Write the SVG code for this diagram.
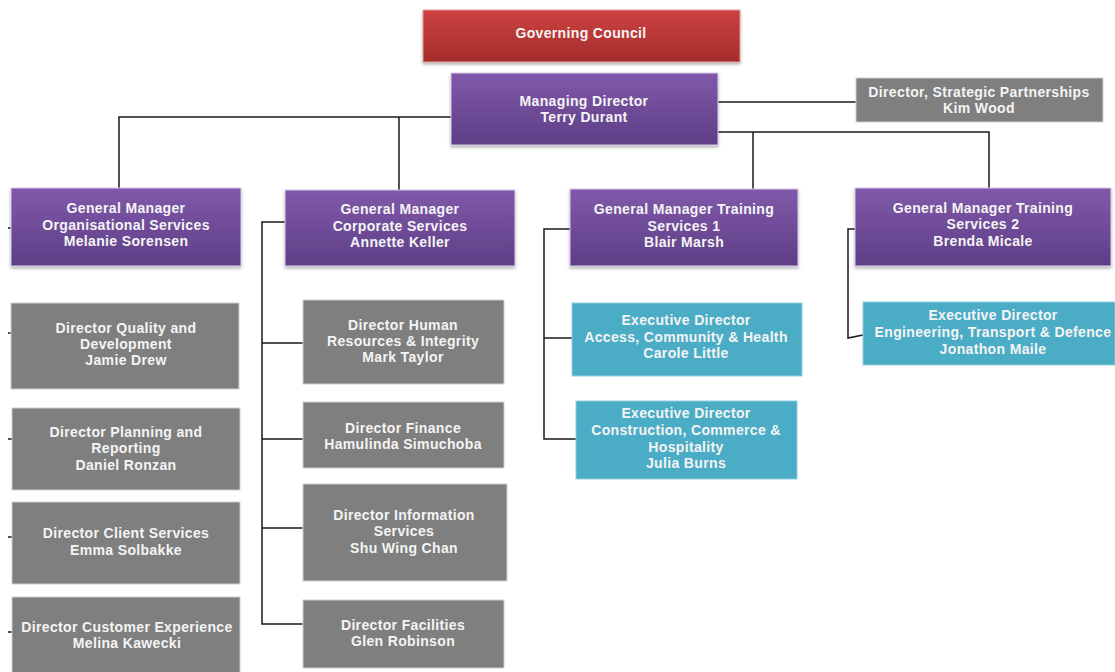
<svg xmlns="http://www.w3.org/2000/svg" width="1115" height="672" viewBox="0 0 1115 672">
<style>
text{font-family:"Liberation Sans",Arial,sans-serif;font-weight:bold;font-size:14px;fill:#f4f4f4;text-anchor:middle;letter-spacing:0.35px}
.gray{fill:#7f7f7f;stroke:#d0d0d0;stroke-width:1}
.blue{fill:#4bacc6;stroke:#8fd0e0;stroke-width:1}
.purple{fill:url(#gp);stroke:#d8cce6;stroke-width:1}
.red{fill:url(#gr);stroke:#e0a0a0;stroke-width:1}
.c{fill:none;stroke:#1a1a1a;stroke-width:1.5}
</style>
<defs>
<linearGradient id="gp" x1="0" y1="0" x2="0" y2="1"><stop offset="0" stop-color="#8059aa"/><stop offset="1" stop-color="#5e3e86"/></linearGradient>
<linearGradient id="gr" x1="0" y1="0" x2="0" y2="1"><stop offset="0" stop-color="#cd4241"/><stop offset="1" stop-color="#a42c2b"/></linearGradient>
<filter id="sh" x="-5%" y="-10%" width="110%" height="130%"><feDropShadow dx="0" dy="2" stdDeviation="1.5" flood-color="#000" flood-opacity="0.3"/></filter>
</defs>
<rect width="1115" height="672" fill="#fff"/>
<g id="connectors">
<path class="c" d="M451 117 H119 V188"/>
<path class="c" d="M399 117 V190"/>
<path class="c" d="M718 102 H856"/>
<path class="c" d="M718 132 H989 V188"/>
<path class="c" d="M753 132 V189"/>
<path class="c" d="M285 222 H262 V624 H303"/>
<path class="c" d="M262 343 H303 M262 439 H303 M262 528 H303"/>
<path class="c" d="M570 229 H544 V439 H576"/>
<path class="c" d="M544 338 H572"/>
<path class="c" d="M855 229 H848 V338 L863 335"/>
<path class="c" d="M8 228 H12 M8 333 H11 M8 439 H12 M8 537 H12 M8 632 H12"/>
</g>
<g id="governing-council"><rect class="red" x="423" y="10" width="317" height="52" filter="url(#sh)"/><text x="581" y="38" font-size="15" letter-spacing="0.5">Governing Council</text></g>
<g id="managing-director"><rect class="purple" x="451" y="73" width="267" height="72" filter="url(#sh)"/><text x="584" y="106">Managing Director</text><text x="584" y="122">Terry Durant</text></g>
<g id="strategic-partnerships"><rect class="gray" x="856" y="78" width="247" height="44"/><text x="979" y="97">Director,  Strategic Partnerships</text><text x="979" y="113">Kim Wood</text></g>
<g id="gm-organisational"><rect class="purple" x="11" y="188" width="230" height="78" filter="url(#sh)"/><text x="126" y="213">General Manager</text><text x="126" y="230">Organisational Services</text><text x="126" y="246">Melanie Sorensen</text></g>
<g id="gm-corporate"><rect class="purple" x="285" y="190" width="230" height="76" filter="url(#sh)"/><text x="400" y="214">General Manager</text><text x="400" y="231">Corporate Services</text><text x="400" y="247">Annette Keller</text></g>
<g id="gm-training-1"><rect class="purple" x="570" y="189" width="228" height="77" filter="url(#sh)"/><text x="684" y="214">General Manager Training</text><text x="684" y="231">Services 1</text><text x="684" y="247">Blair Marsh</text></g>
<g id="gm-training-2"><rect class="purple" x="855" y="188" width="256" height="78" filter="url(#sh)"/><text x="983" y="213">General Manager Training</text><text x="983" y="229">Services 2</text><text x="983" y="246">Brenda Micale</text></g>
<g id="dir-quality"><rect class="gray" x="11" y="303" width="228" height="86"/><text x="126" y="333">Director Quality and</text><text x="126" y="349">Development</text><text x="126" y="365">Jamie Drew</text></g>
<g id="dir-planning"><rect class="gray" x="12" y="408" width="228" height="82"/><text x="126" y="437">Director Planning and</text><text x="126" y="453">Reporting</text><text x="126" y="470">Daniel Ronzan</text></g>
<g id="dir-client"><rect class="gray" x="12" y="502" width="228" height="82"/><text x="126" y="538">Director Client Services</text><text x="126" y="555">Emma  Solbakke</text></g>
<g id="dir-customer"><rect class="gray" x="12" y="597" width="228" height="80"/><text x="127" y="632">Director Customer Experience</text><text x="127" y="648">Melina Kawecki</text></g>
<g id="dir-hr"><rect class="gray" x="303" y="300" width="201" height="84"/><text x="403" y="330">Director Human</text><text x="403" y="346">Resources &amp; Integrity</text><text x="403" y="362">Mark Taylor</text></g>
<g id="dir-finance"><rect class="gray" x="303" y="402" width="201" height="66"/><text x="403" y="433">Director Finance</text><text x="403" y="449">Hamulinda Simuchoba</text></g>
<g id="dir-information"><rect class="gray" x="303" y="484" width="204" height="97"/><text x="404" y="520">Director Information</text><text x="404" y="536">Services</text><text x="404" y="553">Shu Wing Chan</text></g>
<g id="dir-facilities"><rect class="gray" x="303" y="600" width="201" height="68"/><text x="403" y="630">Director Facilities</text><text x="403" y="646">Glen Robinson</text></g>
<g id="exec-access"><rect class="blue" x="572" y="303" width="230" height="73"/><text x="686" y="325">Executive Director</text><text x="686" y="342">Access,  Community &amp; Health</text><text x="686" y="358">Carole Little</text></g>
<g id="exec-construction"><rect class="blue" x="576" y="401" width="221" height="78"/><text x="686" y="418">Executive Director</text><text x="686" y="435">Construction, Commerce &amp;</text><text x="686" y="452">Hospitality</text><text x="686" y="468">Julia Burns</text></g>
<g id="exec-engineering"><rect class="blue" x="863" y="302" width="252" height="63"/><text x="993" y="320">Executive Director</text><text x="993" y="337">Engineering, Transport &amp; Defence</text><text x="993" y="354">Jonathon Maile</text></g>
</svg>
